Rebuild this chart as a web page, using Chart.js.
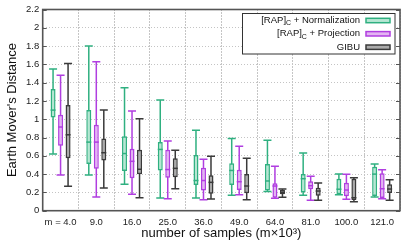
<!DOCTYPE html>
<html><head><meta charset="utf-8">
<script src="https://cdn.jsdelivr.net/npm/chart.js@4"></script>
<style>html,body{margin:0;padding:0;background:#fff}#c{display:block}</style>
</head><body>
<canvas id="c" width="415" height="249"></canvas>
<script>
const categories = ['m = 4.0','9.0','16.0','25.0','36.0','49.0','64.0','81.0','100.0','121.0'];
const yTickLabels = ['0','0.2','0.4','0.6','0.8','1','1.2','1.4','1.6','1.8','2','2.2'];
const seriesNames = ['Normalization','Projection','GIBU'];

const normLow  = [0.62, 0.39, 0.29, 0.14, 0.14, 0.17, 0.21, 0.17, 0.175, 0.15];
const normQ1   = [1.02, 0.51, 0.435, 0.44, 0.28, 0.28, 0.22, 0.20, 0.18, 0.16];
const normMed  = [1.10, 0.75, 0.625, 0.67, 0.33, 0.44, 0.325, 0.35, 0.235, 0.40];
const normQ3   = [1.33, 1.10, 0.815, 0.75, 0.61, 0.52, 0.51, 0.40, 0.35, 0.48];
const normHigh = [1.55, 1.80, 1.345, 1.21, 0.88, 0.79, 0.77, 0.63, 0.40, 0.51];

const projLow  = [0.39, 0.15, 0.18, 0.13, 0.12, 0.175, 0.136, 0.114, 0.125, 0.13];
const projQ1   = [0.71, 0.46, 0.355, 0.36, 0.22, 0.225, 0.142, 0.234, 0.157, 0.14];
const projMed  = [0.915, 0.75, 0.54, 0.45, 0.33, 0.317, 0.27, 0.273, 0.226, 0.24];
const projQ3   = [1.05, 0.94, 0.677, 0.667, 0.47, 0.448, 0.30, 0.321, 0.306, 0.41];
const projHigh = [1.48, 1.63, 1.09, 0.762, 0.562, 0.704, 0.486, 0.376, 0.398, 0.448];

const gibuLow  = [0.267, 0.248, 0.142, 0.241, 0.128, 0.12, 0.146, 0.114, 0.098, 0.114];
const gibuQ1   = [0.573, 0.55, 0.398, 0.365, 0.186, 0.19, 0.179, 0.164, 0.117, 0.194];
const gibuMed  = [0.83, 0.634, 0.453, 0.463, 0.31, 0.27, 0.20, 0.215, 0.142, 0.237];
const gibuQ3   = [1.156, 0.79, 0.667, 0.573, 0.387, 0.401, 0.226, 0.252, 0.35, 0.289];
const gibuHigh = [1.61, 1.10, 1.006, 0.66, 0.595, 0.573, 0.237, 0.303, 0.361, 0.339];

const styles = [
  {border:'#2fb080', fill:'#b6e7d3'},
  {border:'#b03ee0', fill:'#e3b5f2'},
  {border:'#3a3a3a', fill:'#ababab'}
];
const boxData = [
  {low:normLow,q1:normQ1,med:normMed,q3:normQ3,high:normHigh},
  {low:projLow,q1:projQ1,med:projMed,q3:projQ3,high:projHigh},
  {low:gibuLow,q1:gibuQ1,med:gibuMed,q3:gibuQ3,high:gibuHigh}
];

const datasets = boxData.map((d,i)=>({
  label: seriesNames[i],
  data: d.q1.map((v,j)=>[v, d.q3[j]]),
  backgroundColor: styles[i].fill,
  borderColor: styles[i].border,
  borderWidth: 1.5,
  borderSkipped: false,
  categoryPercentage: 0.63,
  barPercentage: 0.667
}));

const L = 42.7, R = 400, T = 9.5, B = 210.7;

const boxPlugin = {
  id:'boxPlugin',
  beforeDatasetsDraw(chart){
    const ctx = chart.ctx, ys = chart.scales.y;
    boxData.forEach((d,i)=>{
      const meta = chart.getDatasetMeta(i);
      ctx.save();
      ctx.strokeStyle = styles[i].border; ctx.lineWidth = 1.5;
      meta.data.forEach((bar,j)=>{
        const x = bar.x, hw = bar.width*0.8;
        const yl = ys.getPixelForValue(d.low[j]), yh = ys.getPixelForValue(d.high[j]);
        ctx.beginPath();
        ctx.moveTo(x, yl); ctx.lineTo(x, yh);
        ctx.moveTo(x-hw, yl); ctx.lineTo(x+hw, yl);
        ctx.moveTo(x-hw, yh); ctx.lineTo(x+hw, yh);
        ctx.stroke();
      });
      ctx.restore();
    });
  },
  afterDatasetsDraw(chart){
    const ctx = chart.ctx, ys = chart.scales.y;
    boxData.forEach((d,i)=>{
      const meta = chart.getDatasetMeta(i);
      ctx.save();
      ctx.strokeStyle = styles[i].border; ctx.lineWidth = 1.5;
      meta.data.forEach((bar,j)=>{
        const x = bar.x, hw = bar.width/2;
        const ym = ys.getPixelForValue(d.med[j]);
        ctx.beginPath(); ctx.moveTo(x-hw, ym); ctx.lineTo(x+hw, ym); ctx.stroke();
      });
      ctx.restore();
    });
  },
  afterDraw(chart){
    const ctx = chart.ctx, a = chart.chartArea, ys = chart.scales.y;
    ctx.save();
    ctx.strokeStyle = '#555'; ctx.lineWidth = 1;
    ys.ticks.forEach(t=>{
      const y = Math.round(ys.getPixelForValue(t.value))+0.5;
      ctx.beginPath();
      ctx.moveTo(a.left, y); ctx.lineTo(a.left+4, y);
      ctx.moveTo(a.right, y); ctx.lineTo(a.right-4, y);
      ctx.stroke();
    });
    ctx.strokeStyle = '#555'; ctx.lineWidth = 1.6;
    ctx.strokeRect(a.left, a.top, a.right-a.left, a.bottom-a.top);
    ctx.fillStyle = '#111';
    ctx.font = '13px "Liberation Sans", Arial, sans-serif';
    ctx.textAlign = 'center'; ctx.textBaseline = 'middle';
    ctx.fillText('number of samples (m×10³)', (a.left+a.right)/2, 233.5);
    ctx.save();
    ctx.translate(12.5, (a.top+a.bottom)/2); ctx.rotate(-Math.PI/2);
    ctx.fillText("Earth Mover's Distance", 0, 0);
    ctx.restore();
    ctx.fillStyle = '#fff';
    ctx.fillRect(242, 13.5, 153, 40.5);
    ctx.strokeStyle = '#333'; ctx.lineWidth = 1;
    ctx.strokeRect(242.5, 13.5, 152.5, 40.5);
    const rows = [20.5, 33.8, 47.2];
    const texts = [['[RAP]','C',' + Normalization'],['[RAP]','C',' + Projection'],['GIBU','','']];
    const big = '9.5px "Liberation Sans", Arial, sans-serif';
    const small = '7px "Liberation Sans", Arial, sans-serif';
    texts.forEach((tx,i)=>{
      const y = rows[i];
      ctx.textBaseline = 'middle'; ctx.textAlign = 'left';
      ctx.font = big; const w1 = ctx.measureText(tx[0]).width, w3 = ctx.measureText(tx[2]).width;
      ctx.font = small; const w2 = ctx.measureText(tx[1]).width;
      let x = 360 - (w1+w2+w3);
      ctx.fillStyle = '#111';
      ctx.font = big; ctx.fillText(tx[0], x, y); x += w1;
      ctx.font = small; ctx.fillText(tx[1], x, y+3); x += w2;
      ctx.font = big; ctx.fillText(tx[2], x, y);
      ctx.fillStyle = styles[i].fill; ctx.strokeStyle = styles[i].border; ctx.lineWidth = 1.5;
      ctx.fillRect(366, y-2.2, 24, 4.4);
      ctx.strokeRect(366, y-2.2, 24, 4.4);
    });
    ctx.restore();
  }
};

new Chart(document.getElementById('c'), {
  type:'bar',
  data:{labels:categories, datasets},
  options:{
    responsive:false, animation:false, devicePixelRatio:1,
    layout:{padding:{top:T, right:415-R, left:0, bottom:0}},
    plugins:{legend:{display:false}, tooltip:{enabled:false}},
    scales:{
      x:{
        grid:{offset:true, color:'#8a8a8a', lineWidth:1, tickLength:0, drawTicks:false},
        border:{display:false, dash:[1,2]},
        ticks:{color:'#222', font:{size:9.5, family:'"Liberation Sans", Arial, sans-serif'}, padding:6, maxRotation:0, autoSkip:false},
        afterFit(s){ s.height = 249 - B; }
      },
      y:{
        min:0, max:2.2,
        grid:{color:'#c4c4c4', lineWidth:1, tickLength:0, drawTicks:false},
        border:{display:false, dash:[1,2]},
        ticks:{stepSize:0.2, color:'#222', padding:3.5, font:{size:9.5, family:'"Liberation Sans", Arial, sans-serif'},
          callback:(v)=>yTickLabels[Math.round(v/0.2)]},
        afterFit(s){ s.width = L; }
      }
    }
  },
  plugins:[boxPlugin]
});
</script>
</body></html>
